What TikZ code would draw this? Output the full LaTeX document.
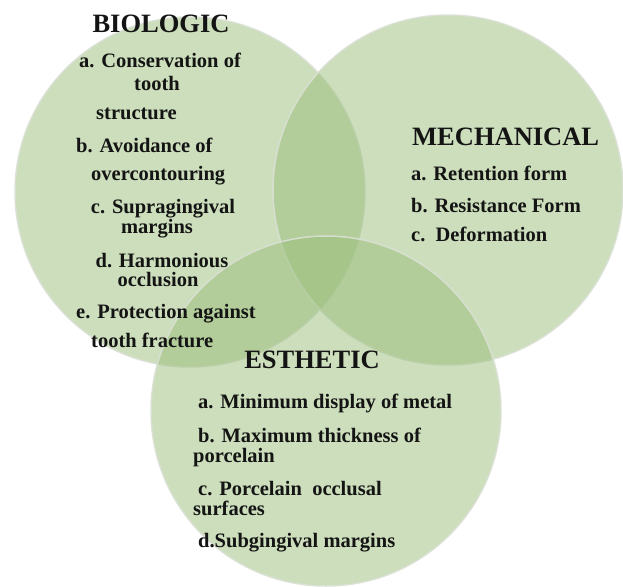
\documentclass[tikz,border=0pt]{standalone}
\usepackage{fontspec}
\setmainfont{Liberation Serif}
\definecolor{vennfill}{RGB}{153,189,121}
\definecolor{vennedge}{RGB}{218,224,212}
\definecolor{txt}{RGB}{20,20,20}
\begin{document}
\begin{tikzpicture}[x=1pt,y=-1pt,
  venn/.style={circle,minimum size=350pt,inner sep=0pt,fill=vennfill,fill opacity=0.5,draw=vennedge,line width=1.5pt,draw opacity=0.9},
  heading/.style={inner sep=0pt,text=txt,font=\fontsize{26.5}{30}\selectfont\bfseries},
  item/.style={inner sep=0pt,text=txt,font=\fontsize{20.5}{24}\selectfont\bfseries}]
\useasboundingbox (0,0) rectangle (623,586);
% circles
\node[venn] (bio) at (190,192) {};
\node[venn] (mech) at (448,190) {};
\node[venn] (est) at (326,411) {};
% BIOLOGIC
\node[heading,anchor=base] (bioH) at (161,33) {BIOLOGIC};
\node[item,anchor=base] (bioA1) at (160,67) {a. Conservation of};
\node[item,anchor=base] (bioA2) at (157,90) {tooth};
\node[item,anchor=base west] (bioA3) at (96,119) {structure};
\node[item,anchor=base west] (bioB1) at (76,152) {b. Avoidance of};
\node[item,anchor=base west] (bioB2) at (91,180) {overcontouring};
\node[item,anchor=base] (bioC1) at (163,213) {c. Supragingival};
\node[item,anchor=base] (bioC2) at (157,233) {margins};
\node[item,anchor=base] (bioD1) at (162,267) {d. Harmonious};
\node[item,anchor=base] (bioD2) at (158,286) {occlusion};
\node[item,anchor=base west] (bioE1) at (76,318) {e. Protection against};
\node[item,anchor=base west] (bioE2) at (91,347) {tooth fracture};
% MECHANICAL
\node[heading,anchor=base west] (mechH) at (412,145) {MECHANICAL};
\node[item,anchor=base west] (mechA) at (411,180) {a. Retention form};
\node[item,anchor=base west] (mechB) at (411,212) {b. Resistance Form};
\node[item,anchor=base west] (mechC) at (411,241) {c.\ \ Deformation};
% ESTHETIC
\node[heading,anchor=base] (estH) at (312,368) {ESTHETIC};
\node[item,anchor=base west] (estA) at (198,408) {a. Minimum display of metal};
\node[item,anchor=base west] (estB1) at (198,442) {b. Maximum thickness of};
\node[item,anchor=base west] (estB2) at (193,462) {porcelain};
\node[item,anchor=base west] (estC1) at (198,495) {c. Porcelain\ \ occlusal};
\node[item,anchor=base west] (estC2) at (193,515) {surfaces};
\node[item,anchor=base west] (estD) at (198,547) {d.Subgingival margins};
\end{tikzpicture}
\end{document}
